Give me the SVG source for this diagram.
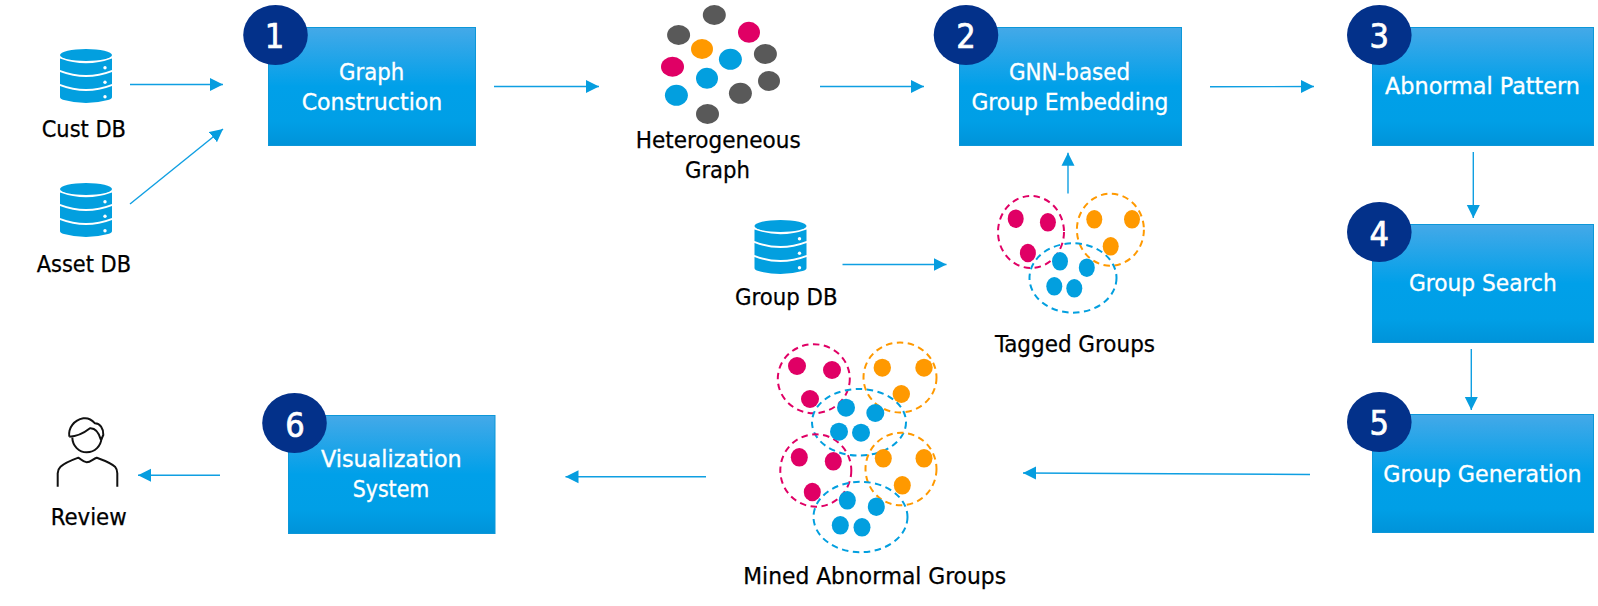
<svg xmlns="http://www.w3.org/2000/svg" xmlns:xlink="http://www.w3.org/1999/xlink" width="1598" height="606" viewBox="0 0 1598 606">
<style>
text{font-family:"DejaVu Sans",Tahoma,Verdana,"Noto Sans",sans-serif;font-stretch:condensed;font-size:23px}
.k{fill:#000;stroke:#000;stroke-width:.25}
.w{fill:#fff;stroke:#fff;stroke-width:.3}
.n{fill:#fff;stroke:#fff;stroke-width:.7;font-size:34px;text-anchor:middle}
.box{fill:url(#bg);stroke:#0d97d8;stroke-width:1}
.badge{fill:#03318a}
.arr{stroke:#0f9fe2;stroke-width:1.4;fill:none;marker-end:url(#ah)}
.p{fill:#e00065}.o{fill:#ff9900}.b{fill:#029fdf}.g{fill:#595959}
.dp,.do,.db{fill:none;stroke-width:2;stroke-dasharray:6.5 4.5}
.dp{stroke:#e00065}.do{stroke:#ff9900}.db{stroke:#029fdf}
</style>
<defs>
<linearGradient id="bg" x1="0" y1="0" x2="0" y2="1">
<stop offset="0" stop-color="#44a9e8"/><stop offset="0.5" stop-color="#00a0e9"/><stop offset="0.8" stop-color="#009fe6"/><stop offset="1" stop-color="#0093d9"/>
</linearGradient>
<marker id="ah" markerUnits="userSpaceOnUse" markerWidth="14" markerHeight="14" refX="13" refY="7" orient="auto"><path d="M0 0.5L13 7L0 13.5Z" fill="#069ddf"/></marker>
<g id="dbi">
<ellipse cx="26" cy="6" rx="26" ry="6" fill="#029fdf"/>
<path fill="#029fdf" d="M0 9.5Q26 19 52 9.5V21Q26 31 0 21ZM0 23Q26 33 52 23V35Q26 45 0 35ZM0 37Q26 47 52 37V48Q52 50 48 51Q26 57 4 51Q0 50 0 48Z"/>
<circle cx="45" cy="18.7" r="1.7" fill="#fff"/><circle cx="45" cy="33.3" r="1.7" fill="#fff"/><circle cx="45" cy="47.7" r="1.7" fill="#fff"/>
</g>
</defs>
<rect width="1598" height="606" fill="#fff"/>

<g id="connectors">
<line class="arr" x1="130" y1="84.5" x2="223" y2="84.5"/>
<line class="arr" x1="130" y1="204" x2="223" y2="129"/>
<line class="arr" x1="494" y1="86.5" x2="599" y2="86.5"/>
<line class="arr" x1="820" y1="86.5" x2="924" y2="86.5"/>
<line class="arr" x1="1210" y1="86.7" x2="1314" y2="86.5"/>
<line class="arr" x1="1068" y1="193.5" x2="1068" y2="152.7"/>
<line class="arr" x1="842.5" y1="264.5" x2="946.5" y2="264.5"/>
<line class="arr" x1="1473.3" y1="152" x2="1473.3" y2="218"/>
<line class="arr" x1="1471.3" y1="349" x2="1471.3" y2="410"/>
<line class="arr" x1="1310" y1="474.5" x2="1023" y2="473"/>
<line class="arr" x1="706" y1="476.7" x2="565.5" y2="476.7"/>
<line class="arr" x1="220" y1="475.3" x2="138" y2="475.3"/>
</g>

<g id="cust-db"><use href="#dbi" x="60" y="49"/><text class="k" x="41.7" y="136.7" textLength="84.3" lengthAdjust="spacingAndGlyphs">Cust DB</text></g>
<g id="asset-db"><use href="#dbi" x="60" y="183"/><text class="k" x="36.7" y="271.7" textLength="94.3" lengthAdjust="spacingAndGlyphs">Asset DB</text></g>
<g id="group-db"><use href="#dbi" x="754.5" y="220"/><text class="k" x="735" y="305" textLength="102.5" lengthAdjust="spacingAndGlyphs">Group DB</text></g>

<g id="step1">
<rect class="box" x="268.5" y="27.5" width="207" height="118"/>
<ellipse class="badge" cx="275.5" cy="35" rx="32.3" ry="30"/>
<text class="n" x="274.5" y="48.3">1</text>
<text class="w" x="339" y="79.5" textLength="65.3" lengthAdjust="spacingAndGlyphs">Graph</text>
<text class="w" x="301.7" y="110" textLength="140.6" lengthAdjust="spacingAndGlyphs">Construction</text>
</g>
<g id="step2">
<rect class="box" x="959.5" y="27.5" width="222" height="118"/>
<ellipse class="badge" cx="966" cy="35" rx="32.3" ry="30"/>
<text class="n" x="966" y="48.3">2</text>
<text class="w" x="1009" y="79.5" textLength="121" lengthAdjust="spacingAndGlyphs">GNN-based</text>
<text class="w" x="971.4" y="110" textLength="197" lengthAdjust="spacingAndGlyphs">Group Embedding</text>
</g>
<g id="step3">
<rect class="box" x="1372.5" y="27.5" width="221" height="118"/>
<ellipse class="badge" cx="1379.3" cy="35" rx="32.3" ry="30"/>
<text class="n" x="1379.3" y="48.3">3</text>
<text class="w" x="1385" y="94.3" textLength="195" lengthAdjust="spacingAndGlyphs">Abnormal Pattern</text>
</g>
<g id="step4">
<rect class="box" x="1372.5" y="224.5" width="221" height="118"/>
<ellipse class="badge" cx="1379.3" cy="232" rx="32.3" ry="30"/>
<text class="n" x="1379.3" y="245.5">4</text>
<text class="w" x="1409" y="291" textLength="147.7" lengthAdjust="spacingAndGlyphs">Group Search</text>
</g>
<g id="step5">
<rect class="box" x="1372.5" y="414.5" width="221" height="118"/>
<ellipse class="badge" cx="1379.3" cy="422" rx="32.3" ry="30"/>
<text class="n" x="1379.3" y="434.5">5</text>
<text class="w" x="1383.3" y="481.7" textLength="198.4" lengthAdjust="spacingAndGlyphs">Group Generation</text>
</g>
<g id="step6">
<rect class="box" x="288.5" y="415.5" width="206.5" height="118"/>
<ellipse class="badge" cx="294.5" cy="423" rx="32.3" ry="30"/>
<text class="n" x="295" y="436.7">6</text>
<text class="w" x="321" y="467.3" textLength="140.7" lengthAdjust="spacingAndGlyphs">Visualization</text>
<text class="w" x="352.7" y="497.3" textLength="76.6" lengthAdjust="spacingAndGlyphs">System</text>
</g>

<g id="heterogeneous-graph">
<ellipse class="g" cx="714.3" cy="15" rx="11.5" ry="10"/>
<ellipse class="g" cx="678.6" cy="35" rx="11.5" ry="10"/>
<ellipse class="p" cx="749" cy="32.3" rx="11" ry="10.5"/>
<ellipse class="o" cx="702" cy="49" rx="11" ry="10"/>
<ellipse class="b" cx="730.4" cy="59.3" rx="11.5" ry="10.5"/>
<ellipse class="g" cx="765.4" cy="54" rx="11.5" ry="10"/>
<ellipse class="p" cx="672.5" cy="66.7" rx="11.5" ry="10"/>
<ellipse class="b" cx="707" cy="78.3" rx="11" ry="10.5"/>
<ellipse class="g" cx="769" cy="81" rx="11" ry="10"/>
<ellipse class="g" cx="740.4" cy="93.3" rx="11.5" ry="10.5"/>
<ellipse class="b" cx="676.4" cy="95.3" rx="11.5" ry="10.5"/>
<ellipse class="g" cx="707.5" cy="114" rx="11.5" ry="10"/>
<text class="k" x="635.7" y="148.3" textLength="165" lengthAdjust="spacingAndGlyphs">Heterogeneous</text>
<text class="k" x="685" y="178.3" textLength="65" lengthAdjust="spacingAndGlyphs">Graph</text>
</g>

<g id="tagged-groups">
<ellipse class="dp" cx="1031" cy="232" rx="33" ry="36"/>
<ellipse class="do" cx="1110.4" cy="229.7" rx="33.5" ry="36"/>
<ellipse class="db" cx="1073" cy="278" rx="43.5" ry="34.7"/>
<ellipse class="p" cx="1015.7" cy="218.7" rx="8" ry="9.3"/>
<ellipse class="p" cx="1047.9" cy="222.3" rx="8" ry="9.3"/>
<ellipse class="p" cx="1027.9" cy="253" rx="8" ry="9.3"/>
<ellipse class="o" cx="1094.3" cy="219.3" rx="8" ry="9.3"/>
<ellipse class="o" cx="1132" cy="219.3" rx="8" ry="9.3"/>
<ellipse class="o" cx="1110.7" cy="246.3" rx="8" ry="9.3"/>
<ellipse class="b" cx="1060" cy="261.3" rx="8" ry="9.3"/>
<ellipse class="b" cx="1086.8" cy="267.7" rx="8" ry="9.3"/>
<ellipse class="b" cx="1054.3" cy="286.3" rx="8" ry="9.3"/>
<ellipse class="b" cx="1074.3" cy="288.3" rx="8" ry="9.3"/>
<text class="k" x="995" y="352.3" textLength="160" lengthAdjust="spacingAndGlyphs">Tagged Groups</text>
</g>

<g id="mined-abnormal-groups">
<ellipse class="dp" cx="813.8" cy="378.7" rx="36" ry="34.5"/>
<ellipse class="do" cx="900" cy="377.5" rx="36.5" ry="35"/>
<ellipse class="db" cx="859" cy="422.3" rx="47" ry="33.3"/>
<ellipse class="dp" cx="815.8" cy="470.5" rx="35.5" ry="36.2"/>
<ellipse class="do" cx="901" cy="469" rx="35.5" ry="36.3"/>
<ellipse class="db" cx="860.5" cy="517" rx="47" ry="35.2"/>
<ellipse class="p" cx="797" cy="366" rx="9" ry="9"/>
<ellipse class="p" cx="832" cy="370" rx="9" ry="9"/>
<ellipse class="p" cx="810" cy="399" rx="9" ry="9"/>
<ellipse class="o" cx="882.3" cy="367.7" rx="8.7" ry="9"/>
<ellipse class="o" cx="924" cy="367.7" rx="8.7" ry="9"/>
<ellipse class="o" cx="901.3" cy="394" rx="8.7" ry="9"/>
<ellipse class="b" cx="846" cy="407.7" rx="9" ry="9"/>
<ellipse class="b" cx="875.3" cy="413" rx="9" ry="9"/>
<ellipse class="b" cx="839" cy="431.7" rx="9" ry="9"/>
<ellipse class="b" cx="861" cy="432.7" rx="9" ry="9"/>
<ellipse class="p" cx="799.3" cy="457.3" rx="8.5" ry="9.3"/>
<ellipse class="p" cx="833.3" cy="461.3" rx="8.5" ry="9.3"/>
<ellipse class="p" cx="812.3" cy="492" rx="8.5" ry="9.3"/>
<ellipse class="o" cx="883.3" cy="458.3" rx="8.5" ry="9.3"/>
<ellipse class="o" cx="924" cy="458.3" rx="8.5" ry="9.3"/>
<ellipse class="o" cx="902.3" cy="485.3" rx="8.5" ry="9.3"/>
<ellipse class="b" cx="847.3" cy="500.3" rx="8.5" ry="9.3"/>
<ellipse class="b" cx="876.3" cy="506.7" rx="8.5" ry="9.3"/>
<ellipse class="b" cx="840.3" cy="525.3" rx="8.5" ry="9.3"/>
<ellipse class="b" cx="862" cy="527.3" rx="8.5" ry="9.3"/>
<text class="k" x="743.3" y="584" textLength="262.7" lengthAdjust="spacingAndGlyphs">Mined Abnormal Groups</text>
</g>

<g id="review">
<g fill="none" stroke="#111" stroke-width="2" stroke-linejoin="round">
<path d="M69.3 436.7C68 428 74 420 83.3 418.3C88 417.5 92 420 95 423.3C100 423.5 103.5 428 103.3 435L101 440"/>
<path d="M69.3 436.7C77 436.5 84 433 90 428.3C95 428 99 433 101 440"/>
<path d="M72.3 437.5C72.5 446 79 452.3 86.7 452.3C95 452.3 101 446 101.5 438"/>
<path d="M57.7 486.7V473.3C58 470 59 468 60.5 466.7C66 462 72 460 78.3 457.7C81 459 83 462.3 86.7 462.3C90.5 462.3 93 459 96.7 457.7C103 460 109.5 462 115 466.7C116.5 468.5 117.3 470 117.3 473.3V486.7"/>
</g>
<text class="k" x="50.7" y="525" textLength="76" lengthAdjust="spacingAndGlyphs">Review</text>
</g>
</svg>
